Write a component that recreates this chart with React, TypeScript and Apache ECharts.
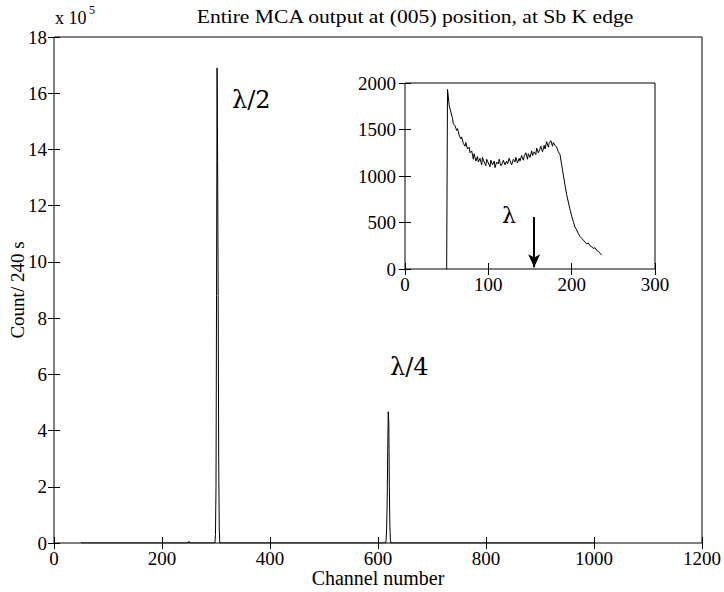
import React, { useEffect, useRef } from "react";
import * as echarts from "echarts";

// Main MCA spectrum (channel, counts)
const mainChannels = [50, 248, 250, 252, 298, 299, 300, 301, 302, 303, 304, 305, 306, 307, 614, 615, 616, 617, 618, 619, 620, 621, 622, 623, 624, 1000];
const mainCounts = [0, 0, 6000, 0, 0, 30000, 200000, 880000, 1690000, 1360000, 880000, 300000, 50000, 0, 0, 10000, 50000, 150000, 330000, 467000, 430000, 200000, 60000, 10000, 0, 0];

// Inset spectrum (channel, counts)
const insetChannels = [50, 51, 52, 53, 55, 57, 58, 60, 62, 63, 65, 67, 68, 70, 72, 73, 75, 77, 78, 80, 82, 83, 85, 87, 88, 90, 92, 93, 95, 97, 98, 100, 102, 103, 105, 107, 108, 110, 112, 113, 115, 117, 118, 120, 122, 123, 125, 127, 128, 130, 132, 133, 135, 137, 138, 140, 142, 143, 145, 147, 148, 150, 152, 153, 155, 157, 158, 160, 162, 163, 165, 167, 168, 170, 172, 173, 175, 177, 178, 180, 182, 184, 186, 188, 190, 192, 194, 196, 198, 200, 202, 204, 206, 208, 210, 212, 214, 216, 218, 220, 222, 224, 226, 228, 230, 232, 234, 236];
const insetCounts = [0, 1930, 1850, 1760, 1690, 1620, 1560, 1540, 1490, 1510, 1440, 1400, 1420, 1350, 1320, 1360, 1290, 1310, 1250, 1270, 1180, 1240, 1160, 1210, 1150, 1190, 1120, 1200, 1150, 1110, 1180, 1140, 1100, 1170, 1120, 1160, 1090, 1150, 1130, 1180, 1110, 1140, 1170, 1120, 1160, 1130, 1190, 1140, 1120, 1180, 1150, 1200, 1140, 1190, 1160, 1220, 1170, 1210, 1250, 1180, 1240, 1200, 1270, 1220, 1260, 1230, 1300, 1250, 1290, 1320, 1260, 1330, 1290, 1370, 1310, 1350, 1380, 1320, 1360, 1330, 1310, 1260, 1230, 1120, 1010, 900, 800, 720, 640, 570, 510, 450, 420, 380, 350, 330, 310, 290, 270, 280, 250, 240, 220, 230, 200, 190, 170, 150];

// Arrow marking λ in the inset
const lambdaChannel = 155;
const arrowTop = 560;
const arrowBottom = 20;

const FONT = "Liberation Serif, DejaVu Serif, serif";
const GREEK_FONT = "DejaVu Serif, Liberation Serif, serif";

export default function App() {
  const ref = useRef<HTMLDivElement>(null);
  useEffect(() => {
    if (!ref.current) return;
    const chart = echarts.init(ref.current, null, { renderer: "svg" });
    const mainData = mainChannels.map((c, i) => [c, mainCounts[i]]);
    const insetData = insetChannels.map((c, i) => [c, insetCounts[i]]);
    const tick = { show: true, inside: true, length: 6, lineStyle: { color: "#000" } };
    const lbl = { color: "#000", fontFamily: FONT, fontSize: 19 };
    const txt = (text: string, x: number, y: number, size: number, extra: any = {}, family = FONT) => ({
      type: "text", x, y, z: 100, ...extra,
      style: { text, fontFamily: family, fontSize: size, fill: "#000", ...(extra.style || {}) },
    });
    chart.setOption({
      animation: false,
      backgroundColor: "#fff",
      textStyle: { fontFamily: FONT },
      grid: [
        { left: 54, top: 37, width: 648, height: 506, show: true, borderColor: "#000", borderWidth: 1, backgroundColor: "#fff", outerBoundsMode: "none", containLabel: false },
        { left: 405, top: 83, width: 250, height: 186, show: true, borderColor: "#000", borderWidth: 1, backgroundColor: "#fff", outerBoundsMode: "none", containLabel: false, z: 5 },
      ],
      xAxis: [
        {
          type: "value", gridIndex: 0, min: 0, max: 1200, interval: 200, position: "bottom",
          axisLine: { show: false }, axisTick: tick, splitLine: { show: false },
          axisLabel: { ...lbl, margin: 6, formatter: (v: number) => String(v) },
          name: "Channel number", nameLocation: "middle", nameGap: 25, nameMoveOverlap: false,
          nameTextStyle: { color: "#000", fontFamily: FONT, fontSize: 20 },
        },
        {
          type: "value", gridIndex: 0, min: 0, max: 1200, interval: 200, position: "top",
          axisLine: { show: false }, axisTick: tick, splitLine: { show: false }, axisLabel: { show: false },
        },
        {
          type: "value", gridIndex: 1, min: 0, max: 300, interval: 100, position: "bottom",
          axisLine: { show: false }, axisTick: tick, splitLine: { show: false },
          axisLabel: { ...lbl, margin: 6, formatter: (v: number) => String(v) }, z: 6,
        },
        {
          type: "value", gridIndex: 1, min: 0, max: 300, interval: 100, position: "top",
          axisLine: { show: false }, axisTick: tick, splitLine: { show: false }, axisLabel: { show: false }, z: 6,
        },
      ],
      yAxis: [
        {
          type: "value", gridIndex: 0, min: 0, max: 1800000, interval: 200000, position: "left",
          axisLine: { show: false }, axisTick: tick, splitLine: { show: false },
          axisLabel: { ...lbl, margin: 7, formatter: (v: number) => String(Math.round(v / 100000)) },
          name: "Count/ 240 s", nameLocation: "middle", nameGap: 27, nameMoveOverlap: false,
          nameTextStyle: { color: "#000", fontFamily: FONT, fontSize: 19 },
        },
        {
          type: "value", gridIndex: 0, min: 0, max: 1800000, interval: 200000, position: "right",
          axisLine: { show: false }, axisTick: tick, splitLine: { show: false }, axisLabel: { show: false },
        },
        {
          type: "value", gridIndex: 1, min: 0, max: 2000, interval: 500, position: "left",
          axisLine: { show: false }, axisTick: tick, splitLine: { show: false },
          axisLabel: { ...lbl, margin: 9, formatter: (v: number) => String(v) }, z: 6,
        },
        {
          type: "value", gridIndex: 1, min: 0, max: 2000, interval: 500, position: "right",
          axisLine: { show: false }, axisTick: tick, splitLine: { show: false }, axisLabel: { show: false }, z: 6,
        },
      ],
      series: [
        {
          type: "line", xAxisIndex: 0, yAxisIndex: 0, data: mainData,
          showSymbol: false, symbol: "none", lineStyle: { color: "#000", width: 1 }, silent: true,
        },
        {
          type: "line", xAxisIndex: 2, yAxisIndex: 2, data: insetData, z: 7,
          showSymbol: false, symbol: "none", lineStyle: { color: "#000", width: 1 }, silent: true,
          markLine: {
            silent: true,
            symbol: ["none", "arrow"],
            symbolSize: [9, 13],
            label: { show: false },
            lineStyle: { color: "#000", width: 2, type: "solid" },
            data: [[{ coord: [lambdaChannel, arrowTop] }, { coord: [lambdaChannel, arrowBottom] }]],
          },
        },
      ],
      graphic: [
        txt("Entire MCA output at (005) position, at Sb K edge", 415, 17, 18, { scaleX: 1.2, style: { align: "center", verticalAlign: "middle" } }),
        txt("x 10", 55, 9, 18),
        txt("5", 89, 4, 12),
        txt("λ/2", 232, 88, 24, {}, GREEK_FONT),
        txt("λ/4", 390, 355, 24, {}, GREEK_FONT),
        txt("λ", 502, 204, 22, {}, GREEK_FONT),
      ],
    });
    return () => chart.dispose();
  }, []);
  return <div ref={ref} style={{ position: "fixed", left: 0, top: 0, width: 724, height: 592 }} />;
}
